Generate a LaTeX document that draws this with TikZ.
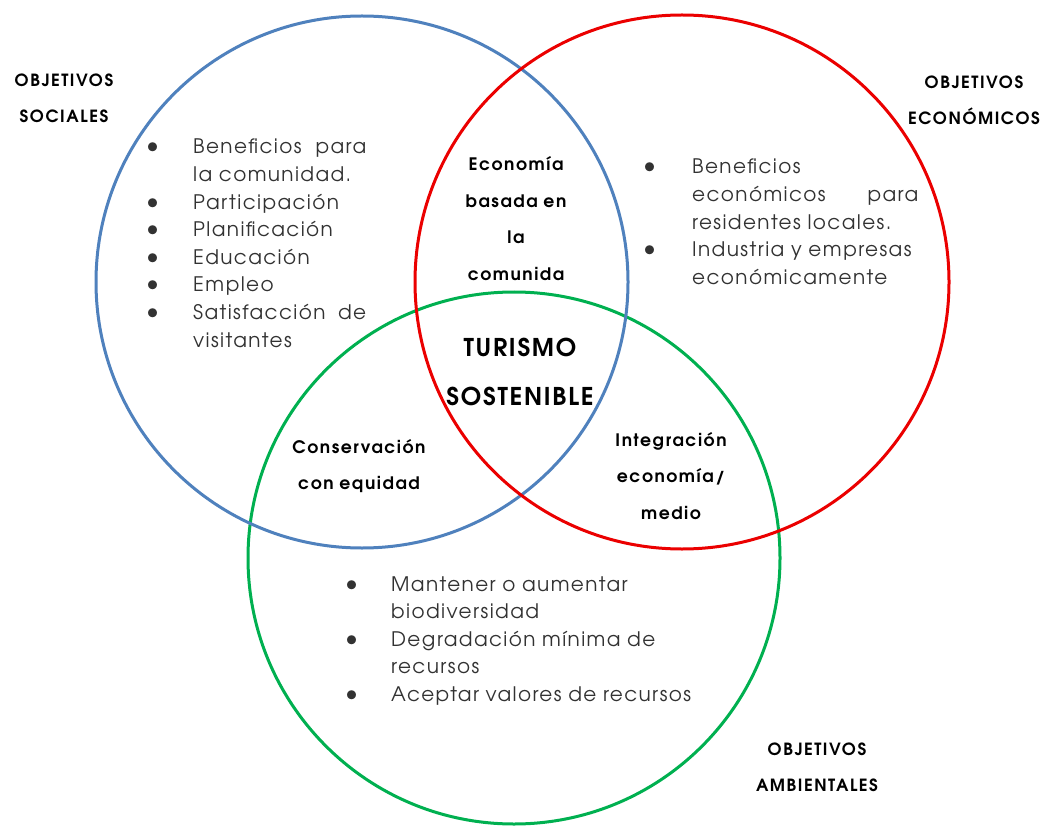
\documentclass[tikz,border=0pt]{standalone}
\usepackage{fontspec}
\setmainfont{TeX Gyre Adventor}
\newfontfamily\lstfont[LetterSpace=7]{TeX Gyre Adventor}
\newfontfamily\labfont[LetterSpace=9]{TeX Gyre Adventor}
\newfontfamily\bigfont[LetterSpace=7]{TeX Gyre Adventor}
\definecolor{cblue}{RGB}{79,129,189}
\definecolor{cred}{RGB}{235,0,0}
\definecolor{cgreen}{RGB}{0,176,80}
\definecolor{ctext}{RGB}{50,50,50}
\newcommand\mybul{{\fontsize{25}{0}\selectfont\textbullet}}
\newcommand\bli[2]{\makebox[#1][l]{\mybul}#2}
\newcommand\bl[2]{\hspace*{#1}#2}
\begin{document}
\begin{tikzpicture}[x=1pt,y=-1pt,
  ring/.style={line width=3pt},
  head/.style={font=\labfont\bfseries\fontsize{16.8}{36}\selectfont, text width=180pt, align=center, anchor=base, inner sep=0pt},
  lab/.style={font=\labfont\bfseries\fontsize{17.2}{36.5}\selectfont, text width=180pt, align=center, anchor=base, inner sep=0pt},
  big/.style={font=\bigfont\bfseries\fontsize{24.5}{49}\selectfont, text width=220pt, align=center, anchor=base, inner sep=0pt},
  lst/.style={font=\lstfont\fontsize{20}{27.6}\selectfont, text=ctext, text width=360pt, align=left, anchor=base west, inner sep=0pt}]
\useasboundingbox (0,0) rectangle (1049,826);
\fill[white] (0,0) rectangle (1049,826);
% circles
\draw[ring, cgreen] (514,558) circle (266pt);
\draw[ring, cblue] (362,282) circle (266pt);
\draw[ring, cred] (682,282) circle (267pt);
% headings
\node[head] (hsoc) at (64,87) {OBJETIVOS\\SOCIALES};
\node[head] (heco) at (974,89) {OBJETIVOS\\ECONÓMICOS};
\node[head] (hamb) at (817,755) {OBJETIVOS\\AMBIENTALES};
% intersection labels
\node[lab] (econ) at (516,171) {Economía\\basada en\\la\\comunida};
\node[big] (tur) at (520,356) {TURISMO\\SOSTENIBLE};
\node[lab] (cons) at (359,453) {Conservación\\con equidad};
\node[lab] (integ) at (671,446) {Integración\\economía/\\medio};
% lists
\node[lst] (lsoc) at (146,154) {%
\bli{47pt}{\makebox[173pt][l]{Beneficios\hfill para}}\\
\bl{47pt}{la comunidad.}\\
\bli{47pt}{Participación}\\
\bli{47pt}{Planificación}\\
\bli{47pt}{Educación}\\
\bli{47pt}{Empleo}\\
\bli{47pt}{\makebox[173pt][l]{Satisfacción\hfill de}}\\
\bl{47pt}{visitantes}};
\node[lst] (leco) at (643,174) {%
\bli{49pt}{Beneficios}\\
\bl{49pt}{\makebox[226pt][l]{económicos\hfill para}}\\
\bl{49pt}{residentes locales.}\\
\bli{49pt}{Industria y empresas}\\
\bl{49pt}{económicamente}};
\node[lst] (lamb) at (345,591) {%
\bli{46pt}{Mantener o aumentar}\\
\bl{46pt}{biodiversidad}\\
\bli{46pt}{Degradación mínima de}\\
\bl{46pt}{recursos}\\
\bli{46pt}{Aceptar valores de recursos}};
\end{tikzpicture}
\end{document}
